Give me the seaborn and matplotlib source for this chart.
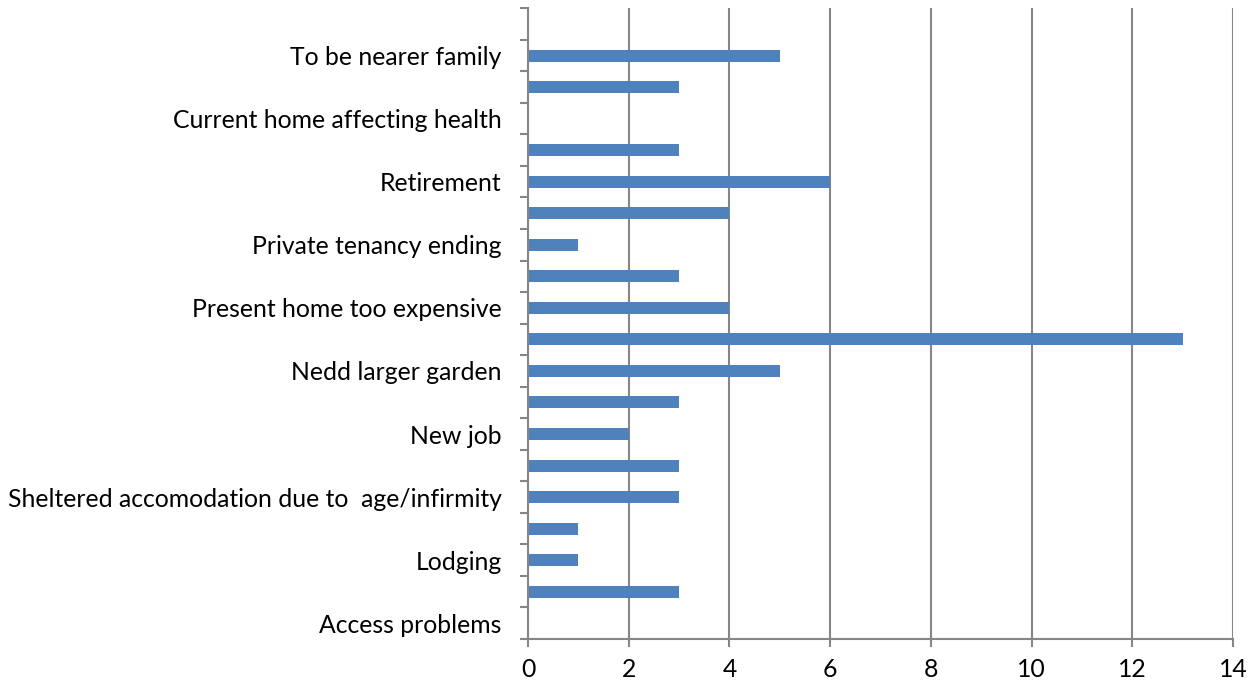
import numpy as np
import pandas as pd
import matplotlib.pyplot as plt
import seaborn as sns

# categories listed top to bottom; Excel only printed every other label
reasons = ["(unlabelled 10)", "To be nearer family",
           "(unlabelled 9)", "Current home affecting health",
           "(unlabelled 8)", "Retirement",
           "(unlabelled 7)", "Private tenancy ending",
           "(unlabelled 6)", "Present home too expensive",
           "(unlabelled 5)", "Nedd larger garden",
           "(unlabelled 4)", "New job",
           "(unlabelled 3)", "Sheltered accomodation due to  age/infirmity",
           "(unlabelled 2)", "Lodging",
           "(unlabelled 1)", "Access problems"]
counts = [0, 5, 3, 0, 3, 6, 4, 1, 3, 4, 13, 5, 3, 2, 3, 3, 1, 1, 3, 0]
shown = [r if not r.startswith("(unlabelled") else "" for r in reasons]

df = pd.DataFrame({"reason": reasons, "count": counts})

sns.set_style("white")
plt.rcParams["font.family"] = ["Lato", "DejaVu Sans"]

fig, ax = plt.subplots(figsize=(12.57, 6.86), dpi=100)
fig.subplots_adjust(left=0.42, right=0.981, top=0.988, bottom=0.0685)

sns.barplot(data=df, x="count", y="reason", order=reasons, color="#4F81BD",
            saturation=1, width=0.38, linewidth=0, ax=ax)

grey = "#868686"
ax.set_xlim(0, 14)
ax.set_ylim(len(reasons) - 0.5, -0.5)
ax.set_xticks(np.arange(0, 15, 2))
ax.set_yticks(range(len(reasons)))
ax.set_yticklabels(shown)
ax.set_yticks(np.arange(-0.5, len(reasons)), minor=True)
ax.xaxis.grid(True, color=grey, linewidth=1.5)
ax.set_axisbelow(True)
ax.set_xlabel("")
ax.set_ylabel("")

for side in ["top", "right"]:
    ax.spines[side].set_visible(False)
for side in ["left", "bottom"]:
    ax.spines[side].set_color(grey)
    ax.spines[side].set_linewidth(1.5)

ax.tick_params(axis="y", which="major", length=0, pad=19, labelsize=17.8, labelcolor="black")
ax.tick_params(axis="y", which="minor", length=6, width=1.5, color=grey, left=True)
ax.tick_params(axis="x", which="major", length=6, width=1.5, color=grey, bottom=True,
               pad=8, labelsize=17.8, labelcolor="black")

plt.savefig("out.png")
